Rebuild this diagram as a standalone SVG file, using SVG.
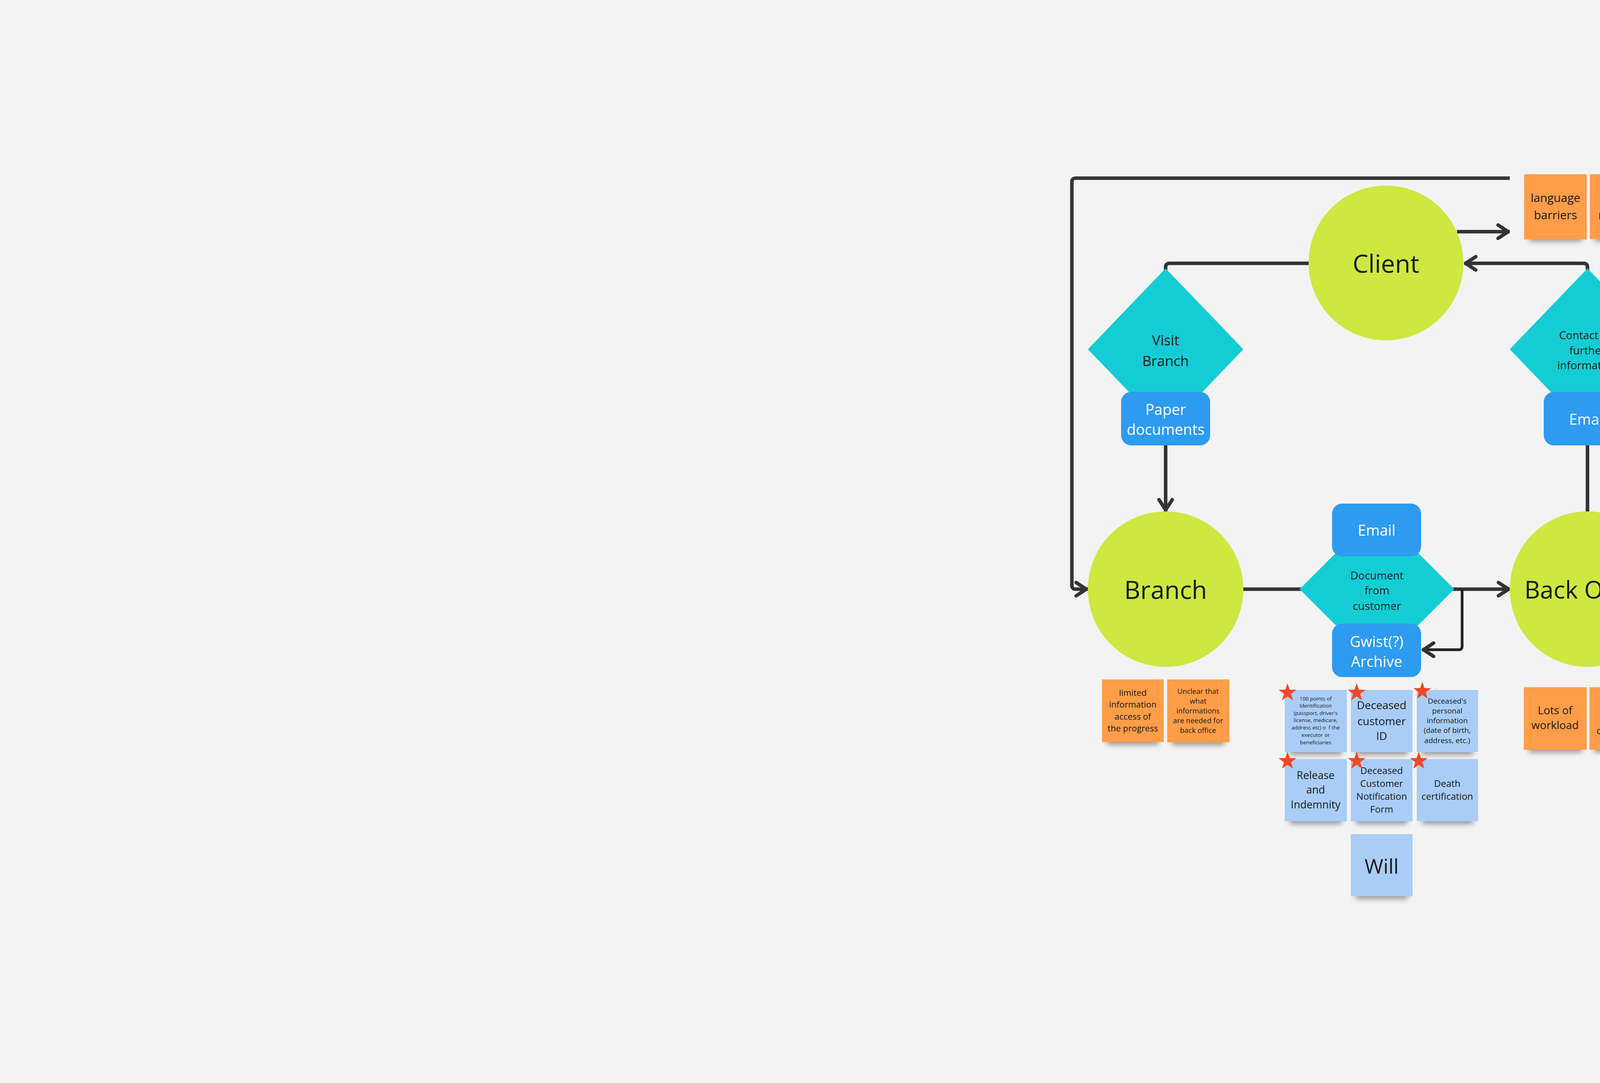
<svg xmlns="http://www.w3.org/2000/svg" width="7080" height="2772" viewBox="0 0 7080 2772">
<style>
text{font-family:"Open Sans","Noto Sans","Liberation Sans",sans-serif;text-anchor:middle;dominant-baseline:central;fill:#1a1a1a}
.circle{fill:#cee741}
.diamond{fill:#14cdd4}
.box{fill:#2d9bf0}
.box-t{fill:#ffffff}
.orange{fill:#ff9d48}
.blue{fill:#a9cdf6}
.shadow{fill:#4a4a4a;opacity:.55;filter:url(#blur)}
.conn{fill:none;stroke:#333333;stroke-width:9;stroke-linejoin:round}
.conn-thin{fill:none;stroke:#222222;stroke-width:7;stroke-linejoin:round}
.star{fill:#f24726}
</style>
<defs>
<filter id="blur" x="-20%" y="-100%" width="140%" height="300%"><feGaussianBlur stdDeviation="7"/></filter>
<marker id="arrow" markerUnits="userSpaceOnUse" viewBox="-35 -25 45 50" markerWidth="45" markerHeight="50" refX="4" refY="0" orient="auto">
<path d="M-26,-17 L0,0 L-26,17" fill="none" stroke="#333333" stroke-width="9" stroke-linecap="round" stroke-linejoin="round"/>
</marker>
<polygon id="star" points="0,-24 5.6,-7.7 22.8,-7.4 9,2.9 14.1,19.4 0,9.5 -14.1,19.4 -9,2.9 -22.8,-7.4 -5.6,-7.7"/>
</defs>
<rect x="0" y="0" width="7080" height="2772" fill="#f3f3f3"/>

<g id="connectors">
<path class="conn" d="M3865,456 H2754 Q2744,456 2744,466 V1498 Q2744,1508 2754,1508 H2785" marker-end="url(#arrow)"/>
<path class="conn" d="M3730,593 H3865" marker-end="url(#arrow)"/>
<path class="conn" d="M3350,674 H2994 Q2984,674 2984,684 V692"/>
<path class="conn" d="M4064,692 V684 Q4064,674 4054,674 H3748" marker-end="url(#arrow)"/>
<path class="conn" d="M2984,1140 V1309" marker-end="url(#arrow)"/>
<path class="conn" d="M4064,1140 V1312"/>
<path class="conn" d="M3182,1508 H3866" marker-end="url(#arrow)"/>
<path class="conn-thin" d="M3743,1508 V1654 Q3743,1663 3734,1663 H3640" marker-end="url(#arrow)"/>
</g>

<g id="client">
<circle class="circle" cx="3548" cy="673" r="198"/>
<text x="3548" y="673" font-size="64">Client</text>
</g>

<g id="branch">
<circle class="circle" cx="2984" cy="1508" r="199"/>
<text x="2984" y="1508" font-size="64">Branch</text>
</g>

<g id="back-office">
<circle class="circle" cx="4064" cy="1508" r="199"/>
<text x="4064" y="1508" font-size="62">Back Office</text>
</g>

<g id="visit-branch">
<polygon class="diamond" points="2984,687 3183,894 2984,1101 2785,894"/>
<text x="2984" y="870" font-size="36">Visit</text>
<text x="2984" y="923" font-size="36">Branch</text>
</g>

<g id="paper-documents">
<rect class="box" x="2870" y="1003" width="228" height="137" rx="26"/>
<text class="box-t" x="2984" y="1047" font-size="38">Paper</text>
<text class="box-t" x="2984" y="1098" font-size="38">documents</text>
</g>

<g id="contact">
<polygon class="diamond" points="4064,687 4263,894 4064,1101 3865,894"/>
<text x="4064" y="857" font-size="28">Contact for</text>
<text x="4064" y="896" font-size="28">further</text>
<text x="4064" y="934" font-size="28">information</text>
</g>

<g id="email-right">
<rect class="box" x="3952" y="1003" width="226" height="137" rx="26"/>
<text class="box-t" x="4065" y="1072" font-size="38">Email</text>
</g>

<g id="document-from-customer">
<polygon class="diamond" points="3525,1310 3723,1508 3525,1706 3327,1508"/>
<text x="3525" y="1472" font-size="28">Document</text>
<text x="3525" y="1510" font-size="28">from</text>
<text x="3525" y="1550" font-size="28">customer</text>
</g>

<g id="email-center">
<rect class="box" x="3410" y="1289" width="228" height="135" rx="26"/>
<text class="box-t" x="3524" y="1356" font-size="38">Email</text>
</g>

<g id="gwist-archive">
<rect class="box" x="3410" y="1596" width="228" height="137" rx="26"/>
<text class="box-t" x="3524" y="1641" font-size="38">Gwist(?)</text>
<text class="box-t" x="3524" y="1692" font-size="38">Archive</text>
</g>

<g id="note-language">
<rect class="shadow" x="3915" y="596" width="134" height="22"/>
<rect class="orange" x="3902" y="446" width="160" height="167"/>
<text x="3982" y="505" font-size="30">language</text>
<text x="3982" y="549" font-size="30">barriers</text>
</g>

<g id="note-delayed">
<rect class="shadow" x="4083" y="596" width="135" height="22"/>
<rect class="orange" x="4070" y="446" width="161" height="166"/>
<text x="4150" y="505" font-size="30">Delayed</text>
<text x="4150" y="549" font-size="30">respond</text>
</g>

<g id="note-limited">
<rect class="shadow" x="2834" y="1884" width="132" height="22"/>
<rect class="orange" x="2821" y="1739" width="158" height="160"/>
<text x="2900" y="1772" font-size="22">limited</text>
<text x="2900" y="1802" font-size="22">information</text>
<text x="2900" y="1833" font-size="22">access of</text>
<text x="2900" y="1863" font-size="22">the progress</text>
</g>

<g id="note-unclear">
<rect class="shadow" x="3001" y="1885" width="133" height="22"/>
<rect class="orange" x="2988" y="1739" width="159" height="161"/>
<text x="3067" y="1768" font-size="18.5">Unclear that</text>
<text x="3067" y="1793" font-size="18.5">what</text>
<text x="3067" y="1818" font-size="18.5">informations</text>
<text x="3067" y="1843" font-size="18.5">are needed for</text>
<text x="3067" y="1868" font-size="18.5">back office</text>
</g>

<g id="note-workload">
<rect class="shadow" x="3914" y="1904" width="135" height="22"/>
<rect class="orange" x="3901" y="1759" width="161" height="160"/>
<text x="3981" y="1817" font-size="28">Lots of</text>
<text x="3981" y="1855" font-size="28">workload</text>
</g>

<g id="note-missing">
<rect class="shadow" x="4082" y="1904" width="135" height="22"/>
<rect class="orange" x="4069" y="1759" width="161" height="160"/>
<text x="4150" y="1803" font-size="24">Missing /</text>
<text x="4150" y="1837" font-size="24">incorrect</text>
<text x="4150" y="1869" font-size="24">documents</text>
<use href="#star" class="star" x="4221" y="1766"/>
</g>

<g id="note-100-points">
<rect class="shadow" x="3302" y="1910" width="133" height="22"/>
<rect class="blue" x="3289" y="1766" width="159" height="159"/>
<text x="3368" y="1788" font-size="13.5">100 points of</text>
<text x="3368" y="1806" font-size="13.5">Identification</text>
<text x="3368" y="1825" font-size="13.5">(passport, driver's</text>
<text x="3368" y="1843" font-size="13.5">license, medicare,</text>
<text x="3368" y="1862" font-size="13.5" style="white-space:pre">address etc) o  f the</text>
<text x="3368" y="1881" font-size="13.5">executor or</text>
<text x="3368" y="1900" font-size="13.5">beneficiaries</text>
<use href="#star" class="star" x="3296" y="1773"/>
</g>

<g id="note-deceased-id">
<rect class="shadow" x="3471" y="1910" width="132" height="22"/>
<rect class="blue" x="3458" y="1766" width="158" height="159"/>
<text x="3537" y="1804" font-size="28">Deceased</text>
<text x="3537" y="1845" font-size="28">customer</text>
<text x="3537" y="1883" font-size="28">ID</text>
<use href="#star" class="star" x="3473" y="1773"/>
</g>

<g id="note-personal-info">
<rect class="shadow" x="3640" y="1910" width="131" height="22"/>
<rect class="blue" x="3627" y="1766" width="157" height="159"/>
<text x="3705" y="1794" font-size="19">Deceased's</text>
<text x="3705" y="1819" font-size="19">personal</text>
<text x="3705" y="1844" font-size="19">information</text>
<text x="3705" y="1869" font-size="19">(date of birth,</text>
<text x="3705" y="1895" font-size="19">address, etc.)</text>
<use href="#star" class="star" x="3641" y="1769"/>
</g>

<g id="note-release">
<rect class="shadow" x="3302" y="2087" width="133" height="22"/>
<rect class="blue" x="3289" y="1943" width="159" height="159"/>
<text x="3368" y="1983" font-size="27">Release</text>
<text x="3368" y="2020" font-size="27">and</text>
<text x="3368" y="2058" font-size="27">Indemnity</text>
<use href="#star" class="star" x="3296" y="1948"/>
</g>

<g id="note-notification-form">
<rect class="shadow" x="3471" y="2087" width="132" height="22"/>
<rect class="blue" x="3458" y="1943" width="158" height="159"/>
<text x="3537" y="1971" font-size="24">Deceased</text>
<text x="3537" y="2004" font-size="24">Customer</text>
<text x="3537" y="2037" font-size="24">Notification</text>
<text x="3537" y="2070" font-size="24">Form</text>
<use href="#star" class="star" x="3473" y="1948"/>
</g>

<g id="note-death-certification">
<rect class="shadow" x="3640" y="2087" width="131" height="22"/>
<rect class="blue" x="3627" y="1943" width="157" height="159"/>
<text x="3705" y="2004" font-size="24">Death</text>
<text x="3705" y="2037" font-size="24">certification</text>
<use href="#star" class="star" x="3632" y="1948"/>
</g>

<g id="note-will">
<rect class="shadow" x="3471" y="2279" width="132" height="22"/>
<rect class="blue" x="3458" y="2135" width="158" height="159"/>
<text x="3537" y="2215" font-size="52">Will</text>
</g>
</svg>
